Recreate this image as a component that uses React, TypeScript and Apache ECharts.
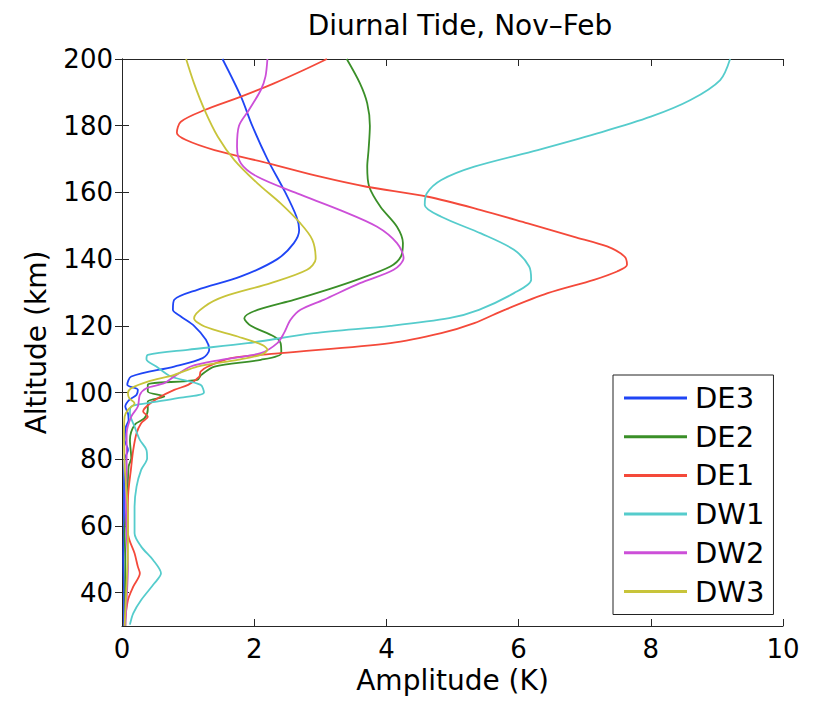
import React, { useEffect, useRef } from "react";
import * as echarts from "echarts";

const seriesNames = ["DE3", "DE2", "DE1", "DW1", "DW2", "DW3"];
const seriesColors = ["#1f45f5", "#3a8f28", "#f4493a", "#55cccc", "#cc4fd8", "#c8c43a"];

const de3Alt = [30, 40, 50, 60, 70, 80, 82.8, 85.8, 89.8, 91.8, 93.8, 95.8, 97.8, 99.3, 100.8, 102.3, 104.8, 107.8, 110.3, 112.8, 115.8, 120, 122.8, 124.8, 127.8, 130.8, 134.8, 140, 144.8, 148.7, 152.7, 160, 170, 180, 188.7, 200];
const de3Amp = [0.03, 0.03, 0.02, 0.03, 0.03, 0.04, 0.09, 0.04, 0.06, 0.1, 0.09, 0.05, 0.11, 0.22, 0.24, 0.08, 0.14, 0.79, 1.22, 1.32, 1.27, 1.09, 0.89, 0.77, 0.79, 1.14, 1.8, 2.35, 2.6, 2.68, 2.64, 2.47, 2.2, 1.97, 1.8, 1.52];

const de2Alt = [30, 40, 50, 57.8, 67.8, 77.8, 80.3, 85.8, 90.3, 92.3, 94.8, 97.3, 98.8, 100.3, 102.3, 103.8, 105.3, 107.8, 109.8, 111.8, 114.8, 116.8, 120, 122.3, 124.8, 127.8, 130.8, 133.8, 137.8, 140.8, 144.8, 149.7, 155.7, 161.7, 167.7, 172.7, 180, 186.7, 192.7, 200];
const de2Amp = [0.05, 0.05, 0.05, 0.04, 0.08, 0.1, 0.14, 0.12, 0.19, 0.34, 0.39, 0.39, 0.64, 0.39, 0.39, 1.14, 1.2, 1.4, 2.1, 2.41, 2.4, 2.3, 1.95, 1.85, 2.05, 2.6, 3.1, 3.55, 4.06, 4.22, 4.25, 4.16, 3.91, 3.74, 3.71, 3.73, 3.75, 3.71, 3.6, 3.4];

const de1Alt = [30.4, 37.8, 41.8, 45.8, 47.8, 51.8, 57.8, 67.8, 77.8, 82.8, 87.8, 90.8, 92.8, 94.3, 95.8, 98.3, 100.8, 102.3, 104.8, 106.3, 107.8, 110.3, 111.8, 114.8, 117.8, 120.8, 124.8, 129.8, 133.8, 136.3, 138.3, 140.8, 143.8, 146.7, 150.7, 154.7, 158.7, 161.7, 164.7, 168.7, 172.7, 175.7, 177.9, 181.2, 184.7, 188.7, 192.7, 196.7, 200];
const de1Amp = [0.04, 0.09, 0.17, 0.27, 0.24, 0.19, 0.09, 0.09, 0.14, 0.17, 0.22, 0.29, 0.39, 0.32, 0.37, 0.54, 0.79, 1.0, 1.17, 1.19, 1.3, 1.65, 2.4, 4.06, 4.83, 5.33, 5.79, 6.44, 7.14, 7.49, 7.64, 7.6, 7.34, 6.84, 6.14, 5.43, 4.63, 3.7, 3.0, 2.22, 1.4, 0.97, 0.83, 0.89, 1.25, 1.8, 2.3, 2.75, 3.1];

const dw1Alt = [30.4, 33.8, 37.8, 42.8, 45.8, 49.8, 53.8, 57.8, 65.8, 71.8, 76.8, 80.3, 82.8, 85.8, 89.8, 93.8, 95.8, 96.8, 98.3, 100, 102.3, 104.8, 107.8, 110, 111.3, 112.8, 114.8, 117.8, 120, 122.3, 124.8, 129.8, 133.8, 137.8, 142.8, 147.7, 152.7, 156.2, 159.7, 163.7, 167.7, 172.7, 177.7, 182.7, 187.7, 193.7, 200];
const dw1Amp = [0.12, 0.17, 0.29, 0.49, 0.59, 0.47, 0.29, 0.19, 0.19, 0.22, 0.29, 0.38, 0.37, 0.27, 0.19, 0.12, 0.14, 0.39, 0.84, 1.24, 1.19, 0.74, 0.52, 0.37, 0.39, 0.99, 1.9, 2.9, 4.06, 4.95, 5.4, 5.93, 6.19, 6.16, 5.93, 5.43, 4.83, 4.58, 4.61, 4.83, 5.33, 6.29, 7.19, 8.0, 8.6, 9.05, 9.2];

const dw2Alt = [30, 37.8, 47.8, 57.8, 67.8, 77.8, 87.8, 92.8, 95.8, 99.3, 101.3, 102.8, 104.8, 107.8, 109.8, 111.8, 114.8, 117.8, 121.8, 124.8, 127.8, 132.8, 136.8, 140.3, 144.8, 149.7, 154.7, 159.7, 164.7, 168.7, 173.7, 180, 184.7, 190.7, 194.7, 200];
const dw2Amp = [0.05, 0.07, 0.09, 0.07, 0.06, 0.07, 0.07, 0.14, 0.24, 0.27, 0.37, 0.64, 0.79, 1.04, 1.5, 2.1, 2.35, 2.45, 2.55, 2.7, 3.05, 3.6, 4.11, 4.26, 4.16, 3.86, 3.3, 2.65, 2.05, 1.8, 1.74, 1.77, 1.92, 2.1, 2.17, 2.2];

const dw3Alt = [30, 42.8, 52.8, 62.8, 77.8, 87.8, 92.8, 94.8, 96.8, 98.3, 99.8, 101.3, 103.3, 105.3, 107.8, 109.8, 111.3, 112.8, 114.3, 116.8, 119.8, 122.3, 125.8, 128.8, 132.8, 136.8, 140, 145.8, 150.7, 156.7, 162.7, 169.7, 176.7, 184.7, 192.7, 200];
const dw3Amp = [0.04, 0.07, 0.09, 0.09, 0.04, 0.03, 0.04, 0.09, 0.19, 0.11, 0.09, 0.14, 0.39, 0.79, 1.14, 1.75, 2.1, 2.2, 2.12, 1.75, 1.25, 1.09, 1.25, 1.55, 2.25, 2.8, 2.93, 2.88, 2.7, 2.4, 2.05, 1.7, 1.45, 1.25, 1.09, 0.97];

const altitudes = [de3Alt, de2Alt, de1Alt, dw1Alt, dw2Alt, dw3Alt];
const amplitudes = [de3Amp, de2Amp, de1Amp, dw1Amp, dw2Amp, dw3Amp];

const yTicks = [40, 60, 80, 100, 120, 140, 160, 180, 200];
const xTicks = [0, 2, 4, 6, 8, 10];

const FONT = "DejaVu Sans";
const AXIS_COLOR = "#262626";

export default function App() {
  const ref = useRef<HTMLDivElement>(null);
  useEffect(() => {
    if (!ref.current) return;
    const chart = echarts.init(ref.current, undefined, { renderer: "svg" });
    const axisLine = { show: true, lineStyle: { color: AXIS_COLOR, width: 1 } };
    const tick = { show: true, inside: true, length: 7, lineStyle: { color: AXIS_COLOR, width: 1 } };
    const series = seriesNames.map((name, i) => ({
      name,
      type: "line",
      xAxisIndex: 0,
      yAxisIndex: 0,
      data: altitudes[i].map((a, k) => [amplitudes[i][k], a]),
      symbol: "none",
      smooth: 0.3,
      lineStyle: { color: seriesColors[i], width: 1.8 },
      itemStyle: { color: seriesColors[i] },
    }));
    chart.setOption({
      animation: false,
      backgroundColor: "#ffffff",
      title: {
        text: "Diurnal Tide, Nov\u2013Feb",
        left: 455,
        textAlign: "center",
        top: 6,
        textStyle: { fontFamily: FONT, fontSize: 28, fontWeight: "normal", color: "#000" },
      },
      grid: { left: 122, right: 40, top: 59, bottom: 76, containLabel: false },
      legend: {
        orient: "vertical",
        left: 613,
        top: 375,
        data: seriesNames.map((n, i) => ({ name: n, icon: "rect", itemStyle: { color: seriesColors[i] } })),
        itemWidth: 63,
        itemHeight: 3,
        itemGap: 8.7,
        padding: [8, 9, 8, 11],
        backgroundColor: "#ffffff",
        borderColor: "#222222",
        borderWidth: 1,
        borderRadius: 0,
        textStyle: { fontFamily: FONT, fontSize: 29, color: "#000", lineHeight: 30, padding: [0, 0, 0, 3] },
      },
      xAxis: [
        {
          type: "value",
          position: "bottom",
          min: xTicks[0],
          max: xTicks[xTicks.length - 1],
          interval: 2,
          name: "Amplitude (K)",
          nameLocation: "middle",
          nameGap: 40,
          nameTextStyle: { fontFamily: FONT, fontSize: 28, color: "#000" },
          axisLine,
          axisTick: tick,
          splitLine: { show: false },
          axisLabel: { fontFamily: FONT, fontSize: 26, color: "#000", margin: 10 },
        },
        {
          type: "value",
          position: "top",
          min: xTicks[0],
          max: xTicks[xTicks.length - 1],
          interval: 2,
          axisLine,
          axisTick: tick,
          splitLine: { show: false },
          axisLabel: { show: false },
        },
      ],
      yAxis: [
        {
          type: "value",
          position: "left",
          min: 30,
          max: 200,
          name: "Altitude (km)",
          nameLocation: "middle",
          nameGap: 72,
          nameTextStyle: { fontFamily: FONT, fontSize: 28, color: "#000" },
          axisLine,
          axisTick: { ...tick, customValues: yTicks },
          splitLine: { show: false },
          axisLabel: { fontFamily: FONT, fontSize: 26, color: "#000", margin: 9, customValues: yTicks },
        },
        {
          type: "value",
          position: "right",
          min: 30,
          max: 200,
          axisLine,
          axisTick: { ...tick, customValues: yTicks },
          splitLine: { show: false },
          axisLabel: { show: false, customValues: yTicks },
        },
      ],
      series,
    });
    return () => chart.dispose();
  }, []);
  return (
    <div
      ref={ref}
      style={{ position: "fixed", left: 0, top: 0, width: 823, height: 702 }}
    />
  );
}
